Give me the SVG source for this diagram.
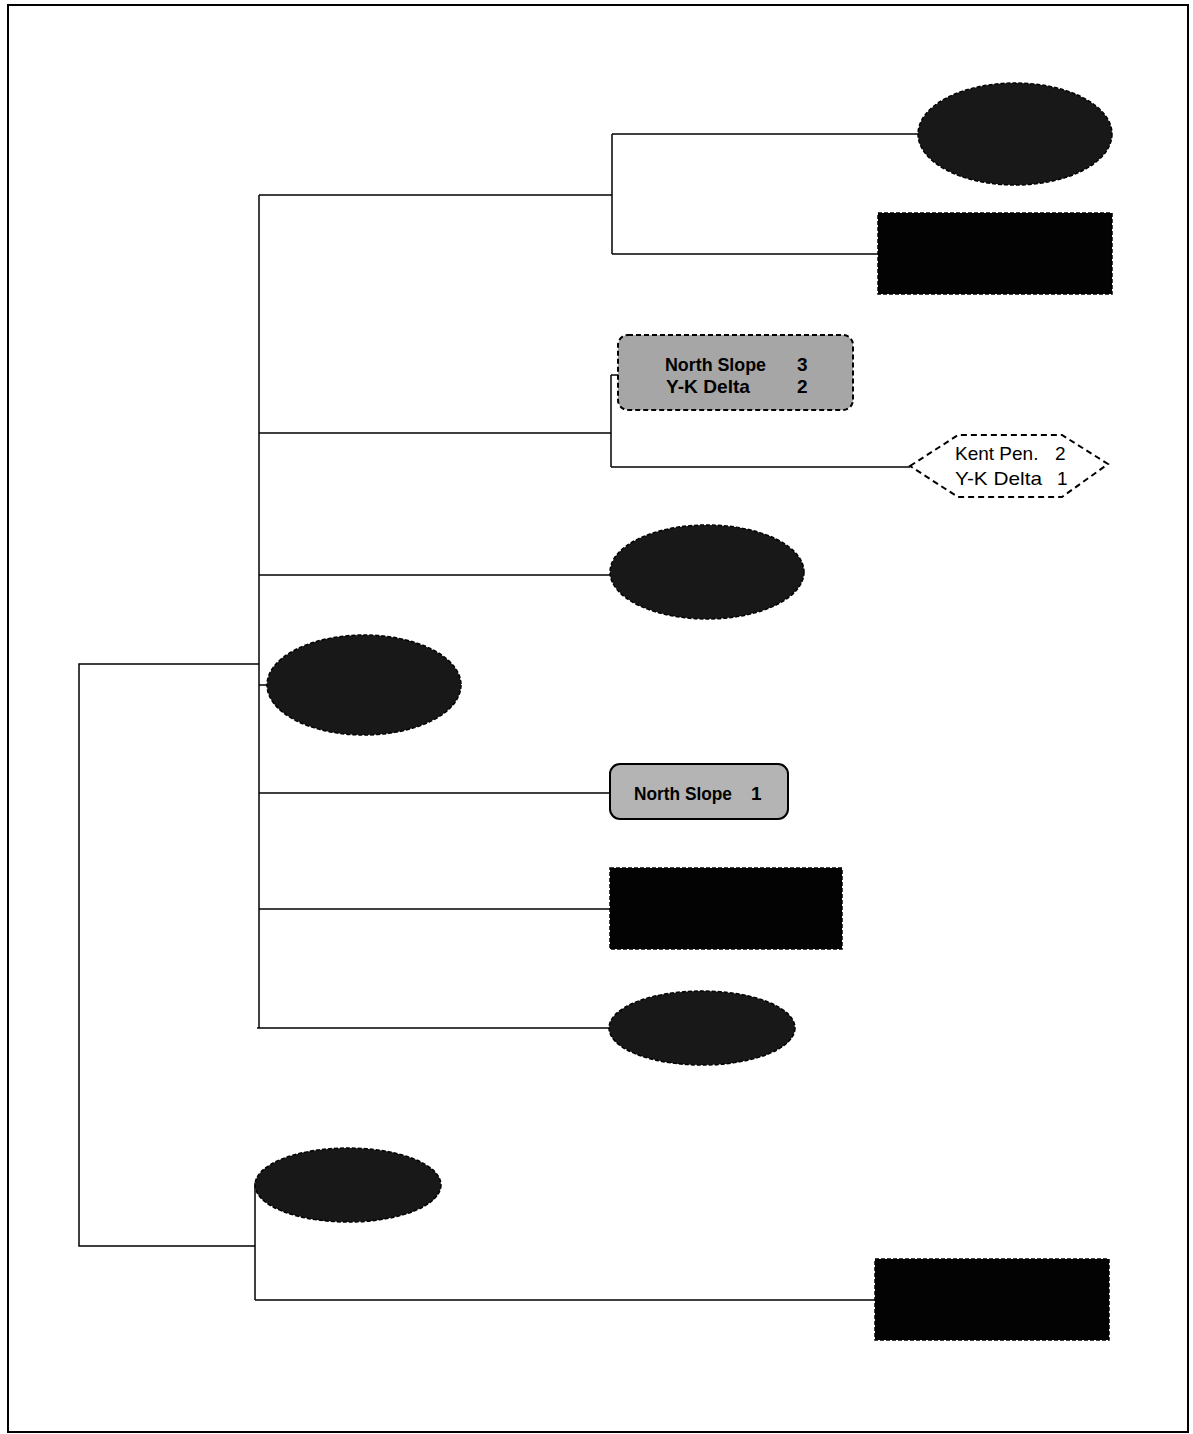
<svg xmlns="http://www.w3.org/2000/svg" width="1193" height="1434" viewBox="0 0 1193 1434">
<style>
.bg{fill:#fff}
.frame{fill:none;stroke:#000;stroke-width:2}
.ln{fill:none;stroke:#000;stroke-width:1.5}
.dk{fill:#181818;stroke:#000;stroke-width:1.5;stroke-dasharray:4 2}
.bk{fill:#030303;stroke:#000;stroke-width:1.5;stroke-dasharray:4 2}
.gr{fill:#a6a6a6;stroke:#000;stroke-width:2;stroke-dasharray:5 3}
.gr2{fill:#b4b4b4;stroke:#000;stroke-width:2}
.hx{fill:#fff;stroke:#000;stroke-width:2;stroke-dasharray:6 4}
.tb{font-family:"Liberation Sans",Arial,sans-serif;font-weight:bold;font-size:19px;fill:#000}
.tn{font-family:"Liberation Sans",Arial,sans-serif;font-size:19px;fill:#000}
</style>
<rect class="bg" x="0" y="0" width="1193" height="1434"/>
<rect class="frame" x="8" y="5" width="1180" height="1427"/>
<g id="connectors">
<polyline class="ln" points="259,664 79,664 79,1246 255,1246"/>
<line class="ln" x1="259" y1="195" x2="259" y2="1028"/>
<polyline class="ln" points="259,195 612,195"/>
<line class="ln" x1="612" y1="134" x2="612" y2="254"/>
<line class="ln" x1="612" y1="134" x2="918" y2="134"/>
<line class="ln" x1="612" y1="254" x2="878" y2="254"/>
<line class="ln" x1="259" y1="433" x2="611" y2="433"/>
<line class="ln" x1="611" y1="375" x2="611" y2="467"/>
<line class="ln" x1="611" y1="375" x2="618" y2="375"/>
<line class="ln" x1="611" y1="467" x2="910" y2="467"/>
<line class="ln" x1="259" y1="575" x2="611" y2="575"/>
<line class="ln" x1="259" y1="685" x2="267" y2="685"/>
<line class="ln" x1="259" y1="793" x2="610" y2="793"/>
<line class="ln" x1="259" y1="909" x2="610" y2="909"/>
<line class="ln" x1="257" y1="1028" x2="609" y2="1028"/>
<line class="ln" x1="255" y1="1183" x2="255" y2="1300"/>
<line class="ln" x1="255" y1="1300" x2="875" y2="1300"/>
</g>
<g id="n1"><ellipse class="dk" cx="1015" cy="134" rx="97" ry="51"/></g>
<g id="n2"><rect class="bk" x="878" y="213" width="234" height="81"/></g>
<g id="n3">
<rect class="gr" x="618" y="335" width="235" height="75" rx="10"/>
<text class="tb" x="665" y="371" textLength="101" lengthAdjust="spacingAndGlyphs">North Slope</text>
<text class="tb" x="797" y="371">3</text>
<text class="tb" x="666" y="393" textLength="84" lengthAdjust="spacingAndGlyphs">Y-K Delta</text>
<text class="tb" x="797" y="393">2</text>
</g>
<g id="n4">
<polygon class="hx" points="910,466 958,435 1062,435 1108,464 1062,497 958,497"/>
<text class="tn" x="955" y="460">Kent Pen.</text>
<text class="tn" x="1055" y="460">2</text>
<text class="tn" x="955" y="485" textLength="87" lengthAdjust="spacingAndGlyphs">Y-K Delta</text>
<text class="tn" x="1057" y="485">1</text>
</g>
<g id="n5"><ellipse class="dk" cx="707" cy="572" rx="97" ry="47"/></g>
<g id="n6"><ellipse class="dk" cx="364" cy="685" rx="97" ry="50"/></g>
<g id="n7">
<rect class="gr2" x="610" y="764" width="178" height="55" rx="10"/>
<text class="tb" x="634" y="800" textLength="98" lengthAdjust="spacingAndGlyphs">North Slope</text>
<text class="tb" x="751" y="800">1</text>
</g>
<g id="n8"><rect class="bk" x="610" y="868" width="232" height="81"/></g>
<g id="n9"><ellipse class="dk" cx="702" cy="1028" rx="93" ry="37"/></g>
<g id="n10"><ellipse class="dk" cx="348" cy="1185" rx="93" ry="37"/></g>
<g id="n11"><rect class="bk" x="875" y="1259" width="234" height="81"/></g>
</svg>
